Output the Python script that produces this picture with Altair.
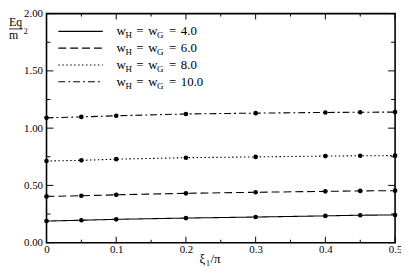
import altair as alt
import pandas as pd

# ---- data ----
xi = [0.0, 0.05, 0.1, 0.2, 0.3, 0.4, 0.45, 0.5]
eq_w4 = [0.189, 0.196, 0.204, 0.215, 0.224, 0.234, 0.240, 0.242]
eq_w6 = [0.404, 0.410, 0.418, 0.431, 0.440, 0.448, 0.452, 0.454]
eq_w8 = [0.713, 0.719, 0.729, 0.742, 0.749, 0.756, 0.759, 0.760]
eq_w10 = [1.090, 1.098, 1.108, 1.124, 1.131, 1.137, 1.139, 1.140]
series = ["4.0", "6.0", "8.0", "10.0"]

x_major = [0, 0.1, 0.2, 0.3, 0.4, 0.5]
x_minor = [0.05, 0.15, 0.25, 0.35, 0.45]
y_major = [0, 0.5, 1.0, 1.5, 2.0]
y_minor = [0.25, 0.75, 1.25, 1.75]

# ---- styling ----
dashes = [[1, 0], [8, 4], [1.5, 2.5], [7, 3, 2, 3]]
W, H = 353, 232
FONT = "Liberation Serif, Times New Roman, serif"

rows = []
for s, vals in zip(series, [eq_w4, eq_w6, eq_w8, eq_w10]):
    for x, v in zip(xi, vals):
        rows.append({"xi": x, "eq": v, "w": s})
df = pd.DataFrame(rows)

xs = alt.Scale(domain=[0, 0.5], nice=False, zero=False)
ys = alt.Scale(domain=[0, 2], nice=False)
dash_scale = alt.Scale(domain=series, range=dashes)

X_AX = alt.Axis(
    values=x_major, ticks=False, domain=False, grid=False,
    labelExpr="datum.value == 0 ? '0' : format(datum.value, '.1f')",
    labelFont=FONT, labelFontSize=11, labelColor="black", labelPadding=1,
    labelOverlap=False, labelFlush=False, title=None)
Y_AX = alt.Axis(
    values=y_major, format=".2f", ticks=False, domain=False, grid=False,
    labelFont=FONT, labelFontSize=11, labelColor="black", labelPadding=4,
    labelOverlap=False, title=None)

lines = alt.Chart(df).mark_line(color="black", strokeWidth=1.1).encode(
    x=alt.X("xi:Q", scale=xs, axis=X_AX),
    y=alt.Y("eq:Q", scale=ys, axis=Y_AX),
    strokeDash=alt.StrokeDash("w:N", scale=dash_scale, legend=None),
    detail="w:N",
)

points = alt.Chart(df).mark_circle(color="black", size=22, opacity=1).encode(
    x=alt.X("xi:Q", scale=xs, axis=X_AX),
    y=alt.Y("eq:Q", scale=ys, axis=Y_AX),
)

layers = [lines, points]


def xticks(vals, length):
    d = pd.DataFrame({"xv": vals})
    b = alt.Chart(d).mark_rule(color="black", strokeWidth=1).encode(
        x=alt.X("xv:Q", scale=xs, axis=X_AX), y=alt.value(H), y2=alt.value(H - length))
    t = alt.Chart(d).mark_rule(color="black", strokeWidth=1).encode(
        x=alt.X("xv:Q", scale=xs, axis=X_AX), y=alt.value(0), y2=alt.value(length))
    return [b, t]


def yticks(vals, length):
    d = pd.DataFrame({"yv": vals})
    l = alt.Chart(d).mark_rule(color="black", strokeWidth=1).encode(
        y=alt.Y("yv:Q", scale=ys, axis=Y_AX), x=alt.value(0), x2=alt.value(length))
    r = alt.Chart(d).mark_rule(color="black", strokeWidth=1).encode(
        y=alt.Y("yv:Q", scale=ys, axis=Y_AX), x=alt.value(W), x2=alt.value(W - length))
    return [l, r]


layers += xticks(x_major, 6) + xticks(x_minor, 3)
layers += yticks(y_major, 7) + yticks(y_minor, 4)


def txt(text, x, y, size=13, data=None):
    d = data if data is not None else pd.DataFrame({"k": [0]})
    return alt.Chart(d).mark_text(
        align="left", baseline="alphabetic", font=FONT, fontSize=size, color="black"
    ).encode(x=alt.value(x), y=alt.value(y), text=text)


# ---- manual legend ----
for i, (s, d) in enumerate(zip(series, dashes)):
    yy = 18 + 17 * i
    one = pd.DataFrame({"w": [s]})
    layers.append(alt.Chart(one).mark_rule(color="black", strokeWidth=1.1, strokeDash=d).encode(
        x=alt.value(12), x2=alt.value(57), y=alt.value(yy)))
    layers.append(txt(alt.value("w"), 71, yy + 4))
    layers.append(txt(alt.value("H"), 80, yy + 7, size=9))
    layers.append(txt(alt.value("="), 91, yy + 4))
    layers.append(txt(alt.value("w"), 103, yy + 4))
    layers.append(txt(alt.value("G"), 112, yy + 7, size=9))
    layers.append(txt(alt.value("="), 124, yy + 4))
    layers.append(txt(alt.Text("w:N"), 136, yy + 4, data=one))

# ---- y title: Eq / m^2 ----
layers.append(txt(alt.value("Eq"), -38, 13, size=12))
layers.append(alt.Chart(pd.DataFrame({"k": [0]})).mark_rule(color="black", strokeWidth=0.8).encode(
    x=alt.value(-38), x2=alt.value(-24), y=alt.value(15.5)))
layers.append(txt(alt.value("m"), -38, 26, size=12))
layers.append(txt(alt.value("2"), -23, 21, size=8))

# ---- x title: xi_1 / pi ----
layers.append(txt(alt.value("ξ"), 155, H + 21, size=13))
layers.append(txt(alt.value("1"), 161.5, H + 24, size=8))
layers.append(txt(alt.value("/π"), 166, H + 21, size=13))

chart = alt.layer(*layers).properties(
    width=W, height=H,
    padding={"left": 39, "top": 4, "right": 6, "bottom": 27},
    autosize=alt.AutoSizeParams(type="none"),
    background="white",
).configure_view(stroke="black", strokeWidth=1.6)

chart.save("out.html", embed_options={"renderer": "svg", "actions": False})
